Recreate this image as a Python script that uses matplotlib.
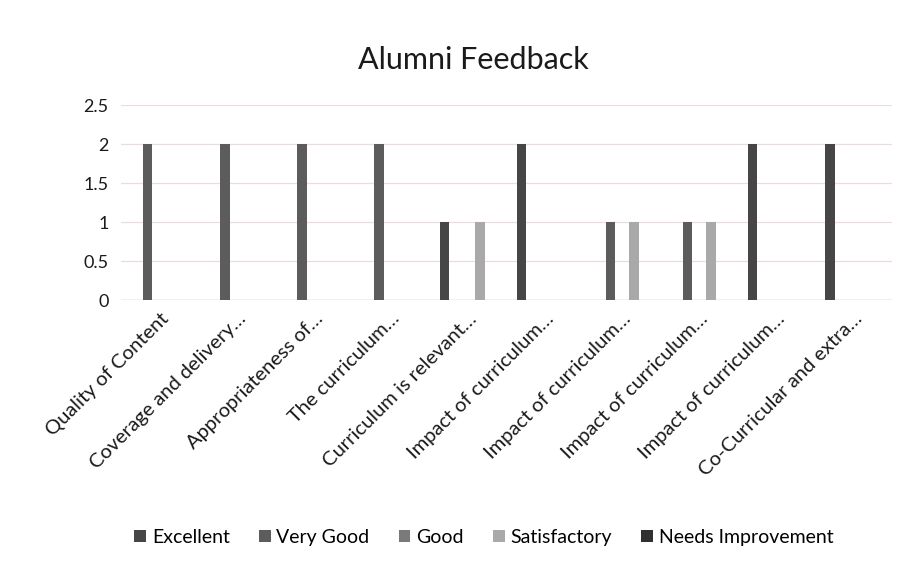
import numpy as np
import matplotlib
matplotlib.use('Agg')
import matplotlib.pyplot as plt

# Data
categories = ['Quality of Content', 'Coverage and delivery\u2026', 'Appropriateness of\u2026',
              'The curriculum\u2026', 'Curriculum is relevant\u2026', 'Impact of curriculum\u2026',
              'Impact of curriculum\u2026', 'Impact of curriculum\u2026', 'Impact of curriculum\u2026',
              'Co-Curricular and extra\u2026']
series_names = ['Excellent', 'Very Good', 'Good', 'Satisfactory', 'Needs Improvement']
excellent = [0, 0, 0, 0, 1, 2, 0, 0, 2, 2]
very_good = [2, 2, 2, 2, 0, 0, 1, 1, 0, 0]
good = [0, 0, 0, 0, 0, 0, 0, 0, 0, 0]
satisfactory = [0, 0, 0, 0, 1, 0, 1, 1, 0, 0]
needs_improvement = [0, 0, 0, 0, 0, 0, 0, 0, 0, 0]
yticks = [0, 0.5, 1, 1.5, 2, 2.5]

colors = ['#464646', '#5c5c5c', '#7a7a7a', '#a9a9a9', '#303030']

plt.rcParams['font.family'] = ['Lato', 'DejaVu Sans']

fig = plt.figure(figsize=(9.06, 5.74), dpi=100)
ax = fig.add_axes([0.1336, 0.477, 0.851, 0.340])

x = np.arange(len(categories))
slot = 1 / 6.5
all_series = [excellent, very_good, good, satisfactory, needs_improvement]
for i, (name, vals) in enumerate(zip(series_names, all_series)):
    ax.bar(x + (i - 2) * slot, vals, width=slot * 0.8, color=colors[i],
           label=name, zorder=3)

ax.set_xlim(-0.5, len(categories) - 0.5)
ax.set_ylim(0, 2.5)
ax.set_yticks(yticks)
ax.set_yticklabels(['0', '0.5', '1', '1.5', '2', '2.5'])
ax.yaxis.grid(True, color='#ecdcdc', linewidth=0.9, zorder=0)
ax.axhline(0, color='#d8c8c8', linewidth=1.0, zorder=2)
for s in ax.spines.values():
    s.set_visible(False)
ax.tick_params(axis='both', length=0, colors='#1a1a1a')
ax.tick_params(axis='y', pad=9, labelsize=13)

ax.set_xticks(x)
ax.set_xticklabels(categories, rotation=45, ha='right', rotation_mode='anchor')
ax.tick_params(axis='x', pad=7, labelsize=14.5)

fig.suptitle('Alumni Feedback', x=0.522, y=0.92, fontsize=22, color='#1a1a1a')

handles, labels = ax.get_legend_handles_labels()
fig.legend(handles, labels, loc='center', bbox_to_anchor=(0.534, 0.064), ncol=5,
           frameon=False, fontsize=14, handlelength=0.6, handleheight=0.6,
           handletextpad=0.3, columnspacing=1.5)

fig.savefig('out.png', dpi=100, facecolor='white')
